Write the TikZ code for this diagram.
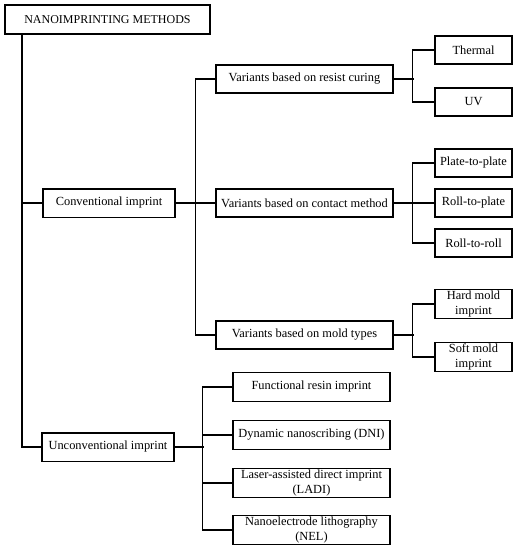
\documentclass[tikz,border=0pt]{standalone}
\usepackage{fontspec}
\setmainfont{Liberation Serif}
\begin{document}
\begin{tikzpicture}[x=1pt,y=-1pt,
  box/.style={draw,line width=1.5pt,inner sep=0pt,align=center,font=\fontsize{12.4}{14.5}\selectfont},
  wide/.style={box,minimum width=177pt,minimum height=28pt},
  leaf/.style={box,minimum width=77pt,minimum height=28pt},
  unc/.style={box,minimum width=157pt,minimum height=29pt},
  mid/.style={box,minimum width=132pt,minimum height=28.5pt},
  link/.style={line width=1.5pt}]
\useasboundingbox (0,0) rectangle (518,550);
\node[box,minimum width=205pt,minimum height=29pt,font=\fontsize{12}{14}\selectfont] (root) at (107.5,19.5) {NANOIMPRINTING METHODS};
\node[mid] (conv) at (109,203) {Conventional imprint};
\node[mid] (unconv) at (108,447) {Unconventional imprint};
\node[wide] (resist) at (304.5,79) {Variants based on resist curing};
\node[wide] (contact) at (304.5,203) {Variants based on contact method};
\node[wide] (mold) at (304.5,335) {Variants based on mold types};
\node[leaf] (thermal) at (473.5,50) {Thermal};
\node[leaf] (uv) at (473.5,102) {UV};
\node[leaf] (p2p) at (473.5,163) {Plate-to-plate};
\node[leaf] (r2p) at (473.5,203) {Roll-to-plate};
\node[leaf] (r2r) at (473.5,243) {Roll-to-roll};
\node[leaf,minimum height=29pt] (hard) at (473.5,304) {Hard mold\\imprint};
\node[leaf,minimum height=29pt] (soft) at (473.5,357) {Soft mold\\imprint};
\node[unc] (func) at (311.5,387) {Functional resin imprint};
\node[unc] (dni) at (311.5,435) {Dynamic nanoscribing (DNI)};
\node[unc] (ladi) at (311.5,483) {Laser-assisted direct imprint\\(LADI)};
\node[unc] (nel) at (311.5,530) {Nanoelectrode lithography\\(NEL)};
% trunk
\coordinate (t) at (22,34);
\draw[link] (t) |- (conv.west);
\draw[link] (t) |- (unconv.west);
% conventional branch
\draw[link] (conv.east) -- (contact.west);
\draw[link] (resist.west) -- ++(-20,0) |- (mold.west);
% resist curing
\draw[link] (resist.east) -- ++(20,0);
\draw[link] (thermal.west) -- ++(-22,0) |- (uv.west);
% contact
\draw[link] (contact.east) -- (r2p.west);
\draw[link] (p2p.west) -- ++(-22,0) |- (r2r.west);
% mold
\draw[link] (mold.east) -- ++(20,0);
\draw[link] (hard.west) -- ++(-22,0) |- (soft.west);
% unconventional
\draw[link] (unconv.east) -- ++(29,0);
\draw[link] (func.west) -- ++(-30,0) |- (nel.west);
\draw[link] (dni.west) -- ++(-30,0);
\draw[link] (ladi.west) -- ++(-30,0);
\end{tikzpicture}
\end{document}
